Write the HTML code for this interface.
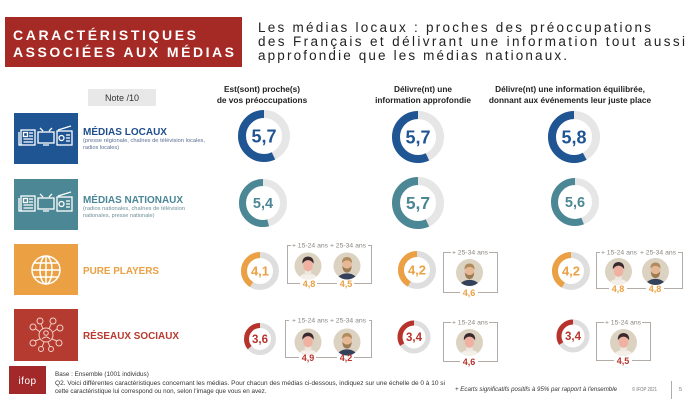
<!DOCTYPE html>
<html><head><meta charset="utf-8">
<style>
html,body{margin:0;padding:0;background:#fff;}
svg{display:block;}
text{font-family:"Liberation Sans",Arial,sans-serif;}
</style></head>
<body>
<svg width="689" height="408" viewBox="0 0 689 408" xmlns="http://www.w3.org/2000/svg">
<defs>
  <clipPath id="cc"><circle cx="0" cy="0" r="12"/></clipPath>
  <symbol id="young" viewBox="-12 -12 24 24">
    <circle cx="0" cy="0" r="12" fill="#dcd2c1"/>
    <g clip-path="url(#cc)">
      <ellipse cx="0" cy="14" rx="9.5" ry="7.5" fill="#f4efe8"/>
      <rect x="-2.8" y="3" width="5.6" height="5" fill="#efe8e0"/>
      <ellipse cx="0" cy="-0.5" rx="4.3" ry="5.2" fill="#efb2a2"/>
      <path d="M-5 -2 Q-5.5 -8 0 -8.5 Q5.5 -8 5 -2 Q3 -5 0 -5.2 Q-3 -5 -5 -2Z" fill="#3a2a2e"/>
    </g>
  </symbol>
  <symbol id="old" viewBox="-12 -12 24 24">
    <circle cx="0" cy="0" r="12" fill="#dcd2c1"/>
    <g clip-path="url(#cc)">
      <ellipse cx="0" cy="14.5" rx="10" ry="8" fill="#34415a"/>
      <ellipse cx="0" cy="-0.5" rx="4.2" ry="5.3" fill="#e6b896"/>
      <path d="M-4.2 0 Q-4 5.5 0 6 Q4 5.5 4.2 0 Q2 2.5 0 2.2 Q-2 2.5 -4.2 0Z" fill="#9c7a52"/>
      <path d="M-4.5 -2.5 Q-4.5 -8 0 -8 Q4.5 -8 4.5 -2.5 Q2.5 -5 0 -5 Q-2.5 -5 -4.5 -2.5Z" fill="#b08c5c"/>
    </g>
  </symbol>
</defs>

<!-- Title -->
<rect x="5" y="17" width="237" height="50" fill="#a52a25"/>
<text x="13" y="40" font-size="14" font-weight="bold" fill="#fff" textLength="183" lengthAdjust="spacing">CARACTÉRISTIQUES</text>
<text x="13" y="57" font-size="14" font-weight="bold" fill="#fff" textLength="221" lengthAdjust="spacing">ASSOCIÉES AUX MÉDIAS</text>

<g font-size="13.5" fill="#222">
<text x="258" y="32" textLength="393" lengthAdjust="spacing">Les médias locaux : proches des préoccupations</text>
<text x="258" y="46" textLength="427" lengthAdjust="spacing">des Français et délivrant une information tout aussi</text>
<text x="258" y="60" textLength="309" lengthAdjust="spacing">approfondie que les médias nationaux.</text>
</g>

<!-- Note box -->
<rect x="88" y="89" width="68" height="17" fill="#e8e8e8"/>
<text x="122" y="101" font-size="9" fill="#333" text-anchor="middle">Note /10</text>

<!-- Column headers -->
<g font-size="8.3" font-weight="bold" fill="#222" text-anchor="middle">
<text x="262" y="92">Est(sont) proche(s)</text>
<text x="262" y="103">de vos préoccupations</text>
<text x="423" y="92">Délivre(nt) une</text>
<text x="423" y="103">information approfondie</text>
<text x="570" y="92">Délivre(nt) une information équilibrée,</text>
<text x="570" y="103">donnant aux événements leur juste place</text>
</g>

<!-- Row boxes -->
<rect x="14" y="113" width="64" height="51" fill="#1f5592"/>
<rect x="14" y="179" width="64" height="51" fill="#4b8795"/>
<rect x="14" y="244" width="64" height="51" fill="#eba043"/>
<rect x="14" y="309" width="64" height="52" fill="#b53a2f"/>

<!-- media icons (rows 1,2) -->
<g id="mediaicons" fill="none" stroke="#fff" stroke-width="1.3">
  <rect x="21" y="130" width="14" height="15"/>
  <path d="M19 132 v13 h2"/>
  <rect x="23.5" y="132.5" width="4" height="4"/>
  <path d="M29 133 h4 M29 136 h4 M23.5 139 h9.5 M23.5 142 h9.5"/>
  <rect x="38" y="132" width="16" height="11"/>
  <path d="M43 131 l-3 -3 M49 131 l3 -3 M43 145 h6"/>
  <rect x="57" y="131" width="15" height="14"/>
  <path d="M58 130 l13 -4"/>
  <circle cx="61.5" cy="138" r="2.5"/>
  <path d="M66 135 h4 M66 138 h4 M66 141 h4"/>
</g>
<use href="#mediaicons" transform="translate(0,66)"/>

<!-- globe -->
<g fill="none" stroke="#fff" stroke-width="1.5">
  <circle cx="46" cy="270" r="14"/>
  <ellipse cx="46" cy="270" rx="6" ry="14"/>
  <path d="M32 270 h28 M34 263 h24 M34 277 h24 M46 256 v28"/>
</g>

<!-- network -->
<g fill="none" stroke="#f3d0c8" stroke-width="1">
  <circle cx="46" cy="335" r="7"/>
  <circle cx="46" cy="333" r="2.3"/>
  <path d="M42 339 q4 -4 8 0"/>
  <circle cx="33" cy="327" r="3"/><circle cx="40" cy="321" r="3"/><circle cx="53" cy="321" r="3"/>
  <circle cx="60" cy="328" r="3"/><circle cx="59" cy="343" r="3"/><circle cx="33" cy="343" r="3"/>
  <circle cx="41" cy="349" r="2.5"/><circle cx="51" cy="349" r="2.5"/>
  <path d="M36 329 l4 3 M41 324 l2 5 M51 324 l-2 5 M57 329 l-4 3 M57 341 l-5 -2 M35 341 l5 -2 M42 347 l2 -5 M50 347 l-2 -5"/>
</g>

<!-- Row labels -->
<text x="83" y="135" font-size="10" font-weight="bold" fill="#1f4e8c" textLength="84" lengthAdjust="spacingAndGlyphs">MÉDIAS LOCAUX</text>
<text x="83" y="142" font-size="5.6" fill="#5a6f96" textLength="122" lengthAdjust="spacingAndGlyphs">(presse régionale, chaînes de télévision locales,</text>
<text x="83" y="149" font-size="5.6" fill="#5a6f96">radios locales)</text>

<text x="83" y="203" font-size="10" font-weight="bold" fill="#4a8696" textLength="100" lengthAdjust="spacingAndGlyphs">MÉDIAS NATIONAUX</text>
<text x="83" y="210" font-size="5.6" fill="#6c8e98" textLength="102" lengthAdjust="spacingAndGlyphs">(radios nationales, chaînes de télévision</text>
<text x="83" y="217" font-size="5.6" fill="#6c8e98">nationales, presse nationale)</text>

<text x="83" y="274" font-size="10" font-weight="bold" fill="#eba043" textLength="76" lengthAdjust="spacingAndGlyphs">PURE PLAYERS</text>
<text x="83" y="339" font-size="10" font-weight="bold" fill="#b83a2e" textLength="96" lengthAdjust="spacingAndGlyphs">RÉSEAUX SOCIAUX</text>

<!-- Gauges -->
<g fill="none">
  <!-- row1 -->
  <circle cx="264" cy="136" r="22" stroke="#e6e6e6" stroke-width="8"/>
  <circle r="22" stroke="#1f5592" stroke-width="8" stroke-dasharray="78.8 200" transform="translate(264,136) scale(-1,1) rotate(-90)"/>
  <circle cx="418" cy="137" r="22" stroke="#e6e6e6" stroke-width="8"/>
  <circle r="22" stroke="#1f5592" stroke-width="8" stroke-dasharray="78.8 200" transform="translate(418,137) scale(-1,1) rotate(-90)"/>
  <circle cx="574" cy="137" r="22" stroke="#e6e6e6" stroke-width="8"/>
  <circle r="22" stroke="#1f5592" stroke-width="8" stroke-dasharray="80.2 200" transform="translate(574,137) scale(-1,1) rotate(-90)"/>
  <!-- row2 -->
  <circle cx="263" cy="203" r="20.5" stroke="#e6e6e6" stroke-width="7"/>
  <circle r="20.5" stroke="#4b8795" stroke-width="7" stroke-dasharray="69.55 200" transform="translate(263,203) scale(-1,1) rotate(-90)"/>
  <circle cx="418" cy="203" r="22" stroke="#e6e6e6" stroke-width="8"/>
  <circle r="22" stroke="#4b8795" stroke-width="8" stroke-dasharray="78.8 200" transform="translate(418,203) scale(-1,1) rotate(-90)"/>
  <circle cx="575" cy="202" r="20.5" stroke="#e6e6e6" stroke-width="7"/>
  <circle r="20.5" stroke="#4b8795" stroke-width="7" stroke-dasharray="72.1 200" transform="translate(575,202) scale(-1,1) rotate(-90)"/>
  <!-- row3 -->
  <circle cx="260" cy="271" r="16" stroke="#dedede" stroke-width="6"/>
  <circle r="16" stroke="#eba043" stroke-width="6" stroke-dasharray="41.2 200" transform="translate(260,271) scale(-1,1) rotate(-90)"/>
  <circle cx="417" cy="270" r="16" stroke="#dedede" stroke-width="6"/>
  <circle r="16" stroke="#eba043" stroke-width="6" stroke-dasharray="42.2 200" transform="translate(417,270) scale(-1,1) rotate(-90)"/>
  <circle cx="571" cy="271" r="16" stroke="#dedede" stroke-width="6"/>
  <circle r="16" stroke="#eba043" stroke-width="6" stroke-dasharray="42.2 200" transform="translate(571,271) scale(-1,1) rotate(-90)"/>
  <!-- row4 -->
  <circle cx="260" cy="339" r="13.5" stroke="#dedede" stroke-width="5"/>
  <circle r="13.5" stroke="#b7332b" stroke-width="5" stroke-dasharray="30.5 200" transform="translate(260,339) scale(-1,1) rotate(-90)"/>
  <circle cx="414" cy="337" r="14" stroke="#dedede" stroke-width="5"/>
  <circle r="14" stroke="#b7332b" stroke-width="5" stroke-dasharray="29.9 200" transform="translate(414,337) scale(-1,1) rotate(-90)"/>
  <circle cx="573" cy="336" r="14" stroke="#dedede" stroke-width="5"/>
  <circle r="14" stroke="#b7332b" stroke-width="5" stroke-dasharray="29.9 200" transform="translate(573,336) scale(-1,1) rotate(-90)"/>
</g>

<g font-weight="bold" text-anchor="middle">
  <text x="264" y="142.5" font-size="18" fill="#1f5592">5,7</text>
  <text x="418" y="143.5" font-size="18" fill="#1f5592">5,7</text>
  <text x="574" y="143.5" font-size="18" fill="#1f5592">5,8</text>
  <text x="263" y="208" font-size="14.5" fill="#4b8795">5,4</text>
  <text x="418" y="209" font-size="17.5" fill="#4b8795">5,7</text>
  <text x="575" y="207" font-size="14.5" fill="#4b8795">5,6</text>
  <text x="260" y="275.5" font-size="13" fill="#eba043">4,1</text>
  <text x="417" y="274.5" font-size="13" fill="#eba043">4,2</text>
  <text x="571" y="275.5" font-size="13" fill="#eba043">4,2</text>
  <text x="260" y="343" font-size="11.5" fill="#b7332b">3,6</text>
  <text x="414" y="341" font-size="11.5" fill="#b7332b">3,4</text>
  <text x="573" y="340" font-size="11.5" fill="#b7332b">3,4</text>
</g>

<!-- Brackets -->
<g fill="none" stroke="#b3aca6" stroke-width="1">
  <rect x="287.5" y="245.5" width="84" height="38"/>
  <rect x="285.5" y="320.5" width="86" height="37"/>
  <rect x="443.5" y="252.5" width="54" height="40"/>
  <rect x="443.5" y="322.5" width="54" height="39"/>
  <rect x="596.5" y="252.5" width="86" height="36"/>
  <rect x="596.5" y="322.5" width="54" height="38"/>
</g>
<!-- white masks -->
<g fill="#fff">
  <rect x="291" y="241" width="77" height="9"/>
  <rect x="300" y="279" width="17" height="9"/><rect x="337" y="279" width="17" height="9"/>
  <rect x="289" y="316" width="80" height="9"/>
  <rect x="299" y="353" width="17" height="9"/><rect x="337" y="353" width="17" height="9"/>
  <rect x="451" y="248" width="38" height="9"/>
  <rect x="460" y="288" width="18" height="9"/>
  <rect x="451" y="318" width="38" height="9"/>
  <rect x="460" y="357" width="18" height="9"/>
  <rect x="600" y="248" width="78" height="9"/>
  <rect x="609" y="284" width="18" height="9"/><rect x="646" y="284" width="18" height="9"/>
  <rect x="604" y="318" width="38" height="9"/>
  <rect x="614" y="356" width="18" height="9"/>
</g>
<g font-size="6.8" fill="#8a8580" text-anchor="middle">
  <text x="310" y="247.5">+ 15-24 ans</text><text x="348" y="247.5">+ 25-34 ans</text>
  <text x="310" y="322.5">+ 15-24 ans</text><text x="348" y="322.5">+ 25-34 ans</text>
  <text x="470" y="254.5">+ 25-34 ans</text>
  <text x="470" y="324.5">+ 15-24 ans</text>
  <text x="619" y="254.5">+ 15-24 ans</text><text x="658" y="254.5">+ 25-34 ans</text>
  <text x="623" y="324.5">+ 15-24 ans</text>
</g>

<!-- avatars -->
<use href="#young" x="294.5" y="252.5" width="27" height="27"/>
<use href="#old" x="333.5" y="252.5" width="27" height="27"/>
<use href="#young" x="294.5" y="328.5" width="27" height="27"/>
<use href="#old" x="333.5" y="328.5" width="27" height="27"/>
<use href="#old" x="456" y="259" width="27" height="27"/>
<use href="#young" x="456" y="329" width="27" height="27"/>
<use href="#young" x="605" y="258" width="27" height="27"/>
<use href="#old" x="642" y="258" width="27" height="27"/>
<use href="#young" x="610" y="329" width="27" height="27"/>

<g font-size="9" font-weight="bold" text-anchor="middle">
  <text x="309" y="287" fill="#eba043">4,8</text><text x="346" y="287" fill="#eba043">4,5</text>
  <text x="308" y="361" fill="#b7332b">4,9</text><text x="346" y="361" fill="#b7332b">4,2</text>
  <text x="469" y="296" fill="#eba043">4,6</text>
  <text x="469" y="365" fill="#b7332b">4,6</text>
  <text x="618" y="292" fill="#eba043">4,8</text><text x="655" y="292" fill="#eba043">4,8</text>
  <text x="623" y="364" fill="#b7332b">4,5</text>
</g>

<!-- Footer -->
<rect x="9" y="366" width="37" height="28" fill="#a3282a"/>
<text x="27.5" y="384" font-size="10" fill="#fff" text-anchor="middle" font-weight="normal" letter-spacing="0.5">ifop</text>
<g font-size="6.3" fill="#333">
  <text x="55" y="376">Base : Ensemble (1001 individus)</text>
  <text x="55" y="385" textLength="390" lengthAdjust="spacingAndGlyphs">Q2. Voici différentes caractéristiques concernant les médias. Pour chacun des médias ci-dessous, indiquez sur une échelle de 0 à 10 si</text>
  <text x="55" y="393">cette caractéristique lui correspond ou non, selon l'image que vous en avez.</text>
</g>
<text x="455" y="391" font-size="6" font-style="italic" fill="#333" textLength="162" lengthAdjust="spacingAndGlyphs">+ Ecarts significatifs positifs à 95% par rapport à l'ensemble</text>
<text x="632" y="391" font-size="5.5" fill="#777" textLength="25" lengthAdjust="spacingAndGlyphs">© IFOP 2021</text>
<line x1="671.5" y1="381" x2="671.5" y2="399" stroke="#999" stroke-width="0.8"/>
<text x="679" y="391" font-size="5.5" fill="#777">5</text>
</svg>
</body></html>
